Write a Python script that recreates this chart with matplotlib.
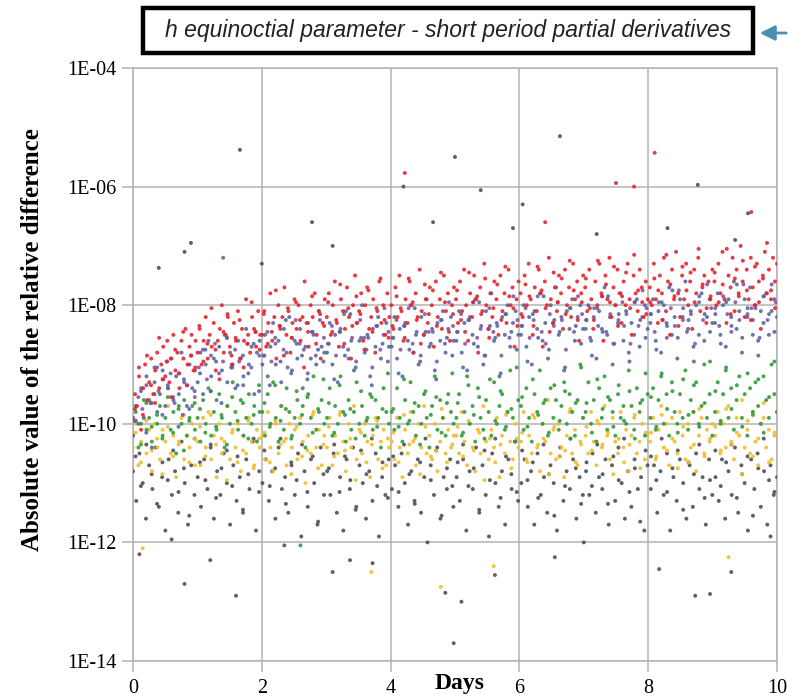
import numpy as np
import matplotlib
matplotlib.use('Agg')
import matplotlib.pyplot as plt
from matplotlib.ticker import FixedLocator, FuncFormatter, NullLocator
from matplotlib.patches import Rectangle, FancyArrowPatch


# log10 of |relative difference|, sampled evenly over the 10 days (two rows per day)
red_vals = [
    -9.9, -9.5, -9.7, -9.2, -10.1, -9.4, -9.0, -9.6, -9.3, -8.9, -9.5, -9.1, -8.8, -9.4, -9.0, -8.7,
    -9.2, -8.6, -9.3, -8.9, -8.5, -9.1, -8.8, -9.4, -8.6, -8.9, -8.4, -9.0, -8.7, -8.5, -9.1, -8.6,
    -8.8, -8.4, -9.0, -8.6, -8.2, -8.9, -8.5, -8.7, -8.3, -9.1, -8.6, -8.4, -8.0, -8.8, -8.5, -8.2,
    -8.7, -9.0, -8.3, -8.6, -8.1, -8.9, -8.4, -8.6, -7.9, -8.5, -8.8, -8.2, -8.4, -8.7, -8.1, -8.5,
    -8.5, -8.1, -8.7, -8.3, -7.8, -8.6, -8.2, -8.9, -8.0, -8.4, -8.2, -7.7, -8.5, -8.1, -8.8, -8.3,
    -7.9, -8.4, -8.0, -8.6, -8.2, -7.6, -8.3, -8.7, -8.0, -8.2, -7.8, -8.5, -8.1, -8.9, -8.3, -7.9,
    -8.2, -7.8, -8.5, -8.0, -7.6, -8.3, -8.7, -7.9, -8.1, -8.4, -7.7, -8.2, -8.9, -8.0, -7.5, -8.3,
    -8.1, -7.8, -8.6, -8.0, -7.7, -8.4, -8.2, -7.9, -8.8, -8.1, -7.6, -8.3, -8.0, -8.5, -7.8, -8.2,
    -8.0, -8.4, -7.7, -8.2, -7.5, -8.1, -8.6, -7.9, -8.3, -7.6, -8.0, -8.8, -7.8, -8.2, -7.4, -8.1,
    -8.5, -7.9, -8.3, -7.7, -8.0, -8.7, -7.6, -8.2, -7.9, -8.4, -7.5, -8.1, -7.8, -8.6, -8.0, -7.7,
    -7.9, -8.3, -7.6, -8.1, -7.4, -8.0, -8.6, -7.8, -8.2, -7.5, -7.9, -8.8, -7.7, -8.1, -7.3, -8.0,
    -8.4, -7.8, -8.2, -7.6, -7.9, -8.5, -7.5, -8.1, -7.8, -8.3, -7.4, -8.0, -7.7, -8.7, -7.9, -7.6,
    -7.8, -8.2, -7.5, -8.0, -7.3, -7.9, -8.5, -7.7, -8.1, -7.4, -7.8, -8.7, -7.6, -8.0, -7.2, -7.9,
    -8.3, -7.7, -8.1, -7.5, -7.8, -8.4, -7.4, -8.0, -7.7, -8.2, -7.3, -7.9, -7.6, -8.6, -7.8, -7.5,
    -7.7, -8.1, -7.4, -7.9, -8.4, -7.6, -8.0, -7.3, -7.8, -8.6, -7.5, -7.9, -7.2, -8.2, -7.7, -8.0,
    -7.4, -7.8, -8.3, -7.6, -8.0, -7.3, -7.9, -8.5, -7.5, -7.8, -8.1, -7.4, -7.7, -8.2, -7.6, -7.9,
    -7.7, -8.0, -7.3, -7.9, -8.3, -7.5, -7.8, -7.2, -8.1, -7.6, -8.5, -7.4, -7.9, -7.1, -7.8, -8.2,
    -7.5, -7.9, -7.3, -8.0, -7.6, -8.4, -7.4, -7.8, -7.2, -8.1, -7.7, -7.5, -8.3, -7.6, -7.9, -7.4,
    -7.6, -8.0, -7.3, -7.8, -7.1, -7.9, -8.3, -7.5, -7.7, -7.2, -8.1, -7.4, -7.8, -7.0, -7.6, -8.2,
    -7.4, -7.9, -7.2, -7.7, -8.0, -7.3, -7.6, -8.4, -7.5, -7.1, -7.8, -7.4, -7.9, -7.2, -7.6, -7.3,
]
# second run of the same quantity, sampled between the first run's epochs
red_vals_b = [
    -9.75, -9.05, -9.85, -8.85, -9.35, -9.65, -8.55, -9.25, -8.95, -9.55, -8.75, -9.15, -8.45, -9.35, -8.85, -9.05,
    -8.35, -8.95, -8.65, -8.05, -8.75, -9.25, -8.45, -8.15, -8.85, -8.55, -8.25, -9.05, -8.65, -7.95, -8.45, -8.75,
    -8.15, -8.65, -8.45, -7.75, -8.35, -8.85, -8.05, -8.55, -7.95, -8.25, -9.05, -8.45, -7.85, -8.65, -8.15, -8.35,
    -7.95, -8.45, -8.25, -7.65, -8.65, -8.05, -8.35, -7.85, -8.15, -8.75, -7.75, -8.45, -8.05, -7.55, -8.25, -8.55,
    -8.35, -7.85, -8.05, -8.55, -7.55, -7.95, -8.25, -8.65, -7.65, -8.15, -7.75, -8.35, -7.45, -7.95, -8.45, -8.15,
    -7.75, -8.25, -8.45, -7.45, -7.95, -7.85, -8.15, -7.55, -8.55, -8.05, -7.65, -8.25, -7.35, -7.85, -8.05, -8.35,
    -8.15, -7.65, -7.85, -8.35, -7.35, -7.75, -8.05, -8.45, -7.45, -7.95, -7.55, -8.15, -7.25, -7.75, -8.25, -7.95,
    -7.55, -8.05, -8.25, -7.25, -7.85, -7.65, -7.95, -7.35, -8.35, -7.85, -7.45, -8.05, -7.15, -7.75, -7.95, -8.15,
    -7.95, -7.55, -7.75, -8.25, -7.15, -7.65, -7.85, -8.35, -7.35, -7.75, -7.45, -7.95, -7.05, -7.65, -8.05, -7.85,
    -7.45, -7.95, -7.65, -7.05, -8.15, -7.55, -7.85, -7.25, -7.75, -8.25, -7.35, -7.95, -7.55, -6.95, -7.75, -8.05,
]

blue_vals = [
    -10.2, -9.7, -10.0, -9.4, -9.9, -9.2, -9.6, -10.4, -9.3, -9.8, -9.5, -9.1, -9.7, -9.4, -8.9, -9.6, -9.2, -9.5, -8.8, -9.3, -9.7, -9.0, -9.4, -9.1,
    -9.3, -8.8, -9.5, -9.0, -8.6, -9.2, -8.9, -9.6, -8.7, -9.1, -8.5, -9.3, -8.8, -9.0, -9.4, -8.6, -8.9, -9.2, -8.4, -9.0, -8.7, -9.5, -8.8, -8.6,
    -9.0, -8.5, -9.2, -8.7, -8.3, -9.0, -8.6, -9.3, -8.4, -8.8, -8.2, -9.1, -8.6, -8.9, -8.4, -9.4, -8.7, -8.3, -8.9, -8.5, -9.0, -8.1, -8.7, -8.8,
    -8.8, -8.3, -9.0, -8.5, -9.3, -8.4, -8.7, -8.1, -8.9, -8.6, -9.1, -8.3, -8.6, -8.0, -8.8, -8.5, -9.2, -8.4, -8.7, -8.2, -8.9, -8.5, -8.3, -8.7,
    -8.7, -8.2, -8.9, -8.4, -9.2, -8.3, -8.6, -8.0, -8.8, -8.5, -9.0, -8.2, -8.5, -7.9, -8.7, -8.4, -9.1, -8.3, -8.6, -8.1, -8.8, -8.4, -8.2, -8.6,
    -8.6, -8.1, -8.8, -8.3, -9.1, -8.2, -8.5, -7.9, -8.7, -8.4, -9.0, -8.1, -8.4, -7.8, -8.6, -8.3, -9.2, -8.2, -8.5, -8.0, -8.7, -8.3, -8.1, -8.5,
    -8.5, -8.0, -8.7, -8.2, -9.0, -8.1, -8.4, -7.8, -8.6, -8.3, -8.9, -8.0, -8.3, -7.7, -8.5, -8.2, -9.1, -8.1, -8.4, -7.9, -8.6, -8.2, -8.0, -8.4,
    -8.4, -8.0, -8.6, -8.2, -8.9, -8.1, -8.4, -7.7, -8.5, -8.2, -9.0, -8.0, -8.3, -7.8, -8.6, -8.1, -8.8, -8.3, -8.5, -7.9, -8.7, -8.2, -8.0, -8.4,
    -8.3, -7.9, -8.6, -8.1, -8.8, -8.0, -8.3, -7.7, -8.5, -8.2, -8.9, -7.9, -8.2, -7.6, -8.4, -8.1, -8.7, -8.0, -8.5, -7.8, -8.6, -8.2, -7.9, -8.3,
    -8.3, -7.8, -8.5, -8.0, -8.7, -7.9, -8.2, -7.6, -8.4, -8.1, -8.8, -7.9, -8.2, -7.7, -8.5, -8.0, -8.6, -8.1, -8.3, -7.8, -8.5, -8.1, -7.9, -8.2,
]
blue_vals_b = [
    -9.95, -9.45, -10.15, -9.65, -9.05, -9.85, -9.35, -9.55, -10.05, -9.25, -9.75, -9.45,
    -9.15, -8.75, -9.45, -8.95, -9.65, -8.55, -9.05, -9.35, -8.85, -9.15, -8.65, -9.45,
    -8.85, -9.35, -8.55, -8.95, -8.25, -9.15, -8.65, -8.85, -9.25, -8.45, -8.75, -8.95,
    -8.65, -9.25, -8.45, -8.85, -8.15, -9.05, -8.55, -8.75, -9.35, -8.35, -8.65, -8.95,
    -8.55, -9.15, -8.35, -8.75, -8.05, -8.95, -8.45, -8.65, -9.25, -8.25, -8.55, -8.85,
    -8.45, -9.05, -8.25, -8.65, -7.95, -8.85, -8.35, -8.55, -9.15, -8.15, -8.45, -8.75,
    -8.35, -8.95, -8.15, -8.55, -7.85, -8.75, -8.25, -8.45, -9.05, -8.05, -8.35, -8.65,
    -8.25, -8.85, -8.05, -8.45, -7.85, -8.65, -8.15, -8.35, -8.95, -7.95, -8.25, -8.55,
    -8.15, -8.75, -7.95, -8.35, -7.75, -8.55, -8.05, -8.25, -8.95, -7.85, -8.15, -8.45,
    -8.15, -8.65, -7.95, -8.35, -7.65, -8.55, -8.05, -8.25, -8.85, -7.85, -8.15, -8.45,
]

violet_vals = [
    -9.95, -9.55, -9.75, -9.35, -9.65, -9.05, -9.45, -9.25, -8.95, -9.15, -9.65, -9.15, -9.85, -9.35, -8.85, -9.55,
    -9.05, -8.75, -9.25, -8.85, -8.65, -9.15, -8.95, -8.55, -9.05, -8.75, -8.95, -9.35, -8.65, -9.05, -8.45, -8.85,
    -8.85, -8.45, -8.95, -8.65, -8.35, -8.75, -9.05, -8.55, -8.25, -8.65, -8.75, -9.15, -8.45, -8.85, -8.25, -8.55,
    -8.65, -8.35, -8.85, -8.45, -8.15, -8.75, -8.55, -8.95, -8.25, -8.55, -8.55, -9.05, -8.35, -8.75, -8.05, -8.45,
    -8.55, -8.25, -8.75, -8.35, -8.05, -8.65, -8.45, -8.85, -8.15, -8.45, -8.45, -8.95, -8.25, -8.65, -7.95, -8.35,
    -8.45, -8.15, -8.65, -8.25, -7.95, -8.55, -8.35, -8.85, -8.05, -8.45, -8.35, -8.85, -8.15, -8.55, -7.85, -8.25,
    -8.35, -8.05, -8.55, -8.25, -7.85, -8.45, -8.65, -8.15, -8.35, -7.95, -8.25, -8.75, -8.05, -8.45, -7.85, -8.15,
    -8.25, -8.55, -8.05, -8.35, -7.85, -8.45, -8.15, -8.65, -8.25, -7.95, -8.15, -8.65, -7.95, -8.35, -7.75, -8.05,
    -8.15, -8.45, -7.95, -8.25, -8.55, -8.05, -8.35, -7.75, -8.25, -8.45, -8.15, -8.65, -7.95, -8.25, -7.65, -8.05,
    -8.05, -8.35, -7.85, -8.15, -8.45, -7.95, -8.25, -7.65, -8.15, -8.05, -8.05, -8.55, -7.85, -8.25, -7.65, -7.95,
]

green_vals = [
    -10.2, -9.8, -10.4, -10.0, -9.6, -10.1, -9.9, -10.3, -9.5, -10.0, -9.7, -10.2, -9.9, -9.4, -10.1, -9.8, -10.5, -9.7, -10.0, -9.6, -10.2, -9.9, -9.7, -10.1,
    -9.9, -10.3, -9.6, -10.0, -9.4, -10.2, -9.8, -10.1, -9.5, -9.9, -10.4, -9.7, -10.0, -9.3, -9.8, -10.1, -9.6, -10.2, -9.9, -9.5, -10.0, -9.7, -10.3, -9.8,
    -9.8, -10.2, -9.5, -10.0, -9.3, -9.9, -10.3, -9.7, -10.1, -9.4, -9.8, -10.2, -9.9, -9.6, -10.0, -9.7, -10.4, -9.5, -9.9, -9.2, -10.1, -9.8, -9.6, -10.0,
    -9.9, -9.4, -10.2, -9.7, -10.0, -9.2, -9.8, -10.3, -9.6, -10.1, -9.8, -9.3, -10.0, -9.7, -10.2, -9.9, -9.5, -10.1, -9.6, -9.9, -10.4, -9.4, -9.8, -10.0,
    -9.8, -10.1, -9.4, -9.9, -10.3, -9.6, -10.0, -9.3, -9.8, -10.2, -9.7, -10.0, -9.5, -9.9, -10.4, -9.7, -9.2, -10.1, -9.6, -9.9, -10.2, -9.5, -9.8, -10.0,
    -9.9, -9.5, -10.2, -9.8, -9.2, -10.0, -9.7, -10.3, -9.4, -9.9, -10.1, -9.6, -9.8, -10.2, -9.3, -10.0, -9.7, -9.5, -10.1, -9.8, -9.1, -9.9, -10.3, -9.6,
    -9.7, -10.1, -9.4, -9.9, -10.3, -9.5, -9.8, -9.1, -10.0, -9.6, -10.2, -9.4, -9.9, -9.6, -10.1, -9.7, -9.3, -10.0, -9.5, -9.8, -10.2, -9.6, -9.0, -9.9,
    -9.8, -9.3, -10.0, -9.6, -10.3, -9.4, -9.9, -9.2, -10.1, -9.6, -9.8, -10.2, -9.5, -9.9, -9.7, -10.0, -9.1, -9.7, -10.1, -9.4, -9.8, -9.6, -10.2, -9.5,
    -9.9, -9.4, -10.1, -9.6, -9.2, -10.0, -9.5, -10.2, -9.3, -9.8, -10.0, -9.5, -9.9, -9.1, -10.1, -9.6, -9.8, -9.3, -10.0, -9.7, -9.0, -9.9, -9.5, -10.2,
    -9.8, -9.3, -10.0, -9.5, -9.1, -9.9, -9.4, -10.1, -9.6, -9.2, -9.9, -9.5, -10.2, -9.4, -9.8, -9.3, -9.7, -10.0, -9.2, -9.6, -9.9, -9.0, -9.5, -9.8,
]
green_vals_b = [
    -9.95, -10.35, -9.65, -10.05, -9.85, -10.25, -9.55, -10.15, -9.75, -10.45, -9.95, -9.65,
    -9.75, -10.15, -9.45, -10.05, -9.85, -10.35, -9.55, -9.95, -9.65, -10.25, -9.85, -9.35,
    -9.65, -10.05, -9.35, -9.95, -9.75, -10.25, -9.45, -9.85, -9.55, -10.15, -9.75, -9.25,
    -9.65, -10.15, -9.35, -9.85, -9.75, -10.25, -9.45, -9.95, -9.55, -10.05, -9.75, -9.15,
    -9.75, -10.05, -9.25, -9.95, -9.65, -10.35, -9.45, -9.85, -9.55, -10.15, -9.65, -9.15,
    -9.65, -10.15, -9.35, -9.85, -9.55, -10.25, -9.25, -9.95, -9.45, -10.05, -9.75, -9.05,
    -9.55, -10.05, -9.25, -9.85, -9.65, -10.15, -9.35, -9.95, -9.45, -10.25, -9.65, -9.05,
    -9.65, -10.15, -9.25, -9.75, -9.55, -10.05, -9.35, -9.95, -9.45, -10.25, -9.65, -9.15,
    -9.55, -10.05, -9.15, -9.75, -9.45, -10.15, -9.25, -9.85, -9.35, -10.05, -9.65, -8.95,
    -9.45, -9.95, -9.05, -9.75, -9.35, -10.05, -9.15, -9.85, -9.25, -10.15, -9.55, -8.95,
]

yellow_vals = [
    -10.4, -10.0, -10.7, -10.3, -9.9, -10.5, -10.1, -10.8, -10.0, -10.4, -10.6, -10.1, -10.3, -9.7, -10.5, -10.2, -10.9, -10.3, -9.9, -10.6, -10.2, -10.4, -10.0, -10.7,
    -10.3, -10.7, -9.9, -10.4, -9.8, -10.6, -10.2, -10.9, -10.0, -10.5, -10.3, -9.7, -10.6, -10.1, -10.4, -10.0, -10.8, -10.2, -10.5, -9.9, -10.3, -10.7, -10.1, -10.4,
    -10.2, -10.6, -9.8, -10.4, -10.8, -10.0, -10.5, -9.7, -10.3, -10.7, -10.0, -10.4, -10.1, -10.6, -9.9, -10.3, -11.0, -10.2, -10.5, -9.8, -10.4, -10.1, -10.7, -10.2,
    -10.4, -9.9, -10.7, -10.2, -10.5, -9.8, -10.3, -10.8, -10.0, -10.4, -9.7, -10.6, -10.1, -10.5, -10.0, -10.3, -10.9, -10.2, -9.9, -10.6, -10.3, -10.1, -10.7, -10.4,
    -10.3, -10.6, -9.9, -10.4, -10.9, -10.1, -10.5, -9.8, -10.3, -10.7, -10.0, -10.4, -9.7, -10.5, -10.2, -10.6, -10.0, -10.8, -10.3, -9.9, -10.5, -10.1, -10.4, -10.2,
    -10.2, -10.5, -9.8, -10.3, -10.7, -10.0, -10.4, -10.8, -10.1, -10.5, -9.7, -10.3, -10.6, -10.1, -10.4, -9.9, -10.9, -10.2, -10.5, -9.8, -10.3, -10.6, -10.0, -10.4,
    -10.3, -9.8, -10.6, -10.2, -10.5, -9.9, -10.4, -10.8, -10.0, -10.3, -9.6, -10.5, -10.1, -10.6, -10.0, -10.4, -10.9, -10.2, -9.8, -10.5, -10.1, -10.7, -10.3, -9.9,
    -10.2, -10.5, -9.8, -10.3, -10.7, -10.0, -10.4, -9.7, -10.2, -10.6, -9.9, -10.3, -10.5, -9.8, -10.4, -10.1, -10.8, -10.2, -9.9, -10.5, -10.3, -10.0, -10.6, -10.2,
    -10.3, -9.9, -10.6, -10.1, -9.7, -10.4, -10.0, -10.7, -9.9, -10.3, -10.5, -9.8, -10.2, -10.6, -10.0, -10.4, -9.8, -10.8, -10.2, -9.9, -10.5, -10.1, -10.3, -10.0,
    -10.2, -9.8, -10.5, -10.0, -10.4, -9.7, -10.3, -10.6, -9.9, -10.2, -9.6, -10.4, -10.1, -10.5, -9.8, -10.3, -10.7, -10.0, -9.9, -10.4, -10.1, -10.6, -10.2, -9.8,
]
yellow_vals_b = [
    -10.15, -10.65, -9.95, -10.45, -10.25, -10.85, -10.05, -10.55, -10.35, -9.85, -10.65, -10.25,
    -10.05, -10.55, -9.85, -10.35, -10.25, -10.95, -10.15, -10.65, -10.45, -9.95, -10.75, -10.25,
    -10.15, -10.65, -9.95, -10.35, -10.25, -10.85, -10.05, -10.55, -10.45, -9.85, -10.75, -10.35,
    -10.05, -10.55, -9.85, -10.45, -10.25, -10.95, -10.15, -10.65, -10.35, -9.95, -10.75, -10.25,
    -10.15, -10.65, -9.85, -10.35, -10.25, -10.85, -10.05, -10.55, -10.45, -9.75, -10.65, -10.35,
    -10.05, -10.55, -9.95, -10.45, -10.15, -10.95, -10.25, -10.65, -10.35, -9.85, -10.75, -10.25,
    -10.15, -10.65, -9.85, -10.35, -10.25, -10.85, -10.05, -10.55, -10.45, -9.75, -10.65, -10.35,
    -10.05, -10.45, -9.95, -10.35, -10.15, -10.85, -10.25, -10.65, -10.35, -9.85, -10.75, -10.15,
    -10.15, -10.55, -9.85, -10.45, -10.25, -10.75, -10.05, -10.65, -10.35, -9.75, -10.55, -10.25,
    -10.05, -10.45, -9.75, -10.35, -10.15, -10.85, -9.95, -10.55, -10.25, -9.65, -10.65, -10.15,
]

gray_vals = [
    -10.8, -11.3, -10.5, -11.0, -11.6, -10.7, -11.1, -10.4, -11.4, -10.9, -11.8, -10.6, -11.2, -10.8, -11.5, -10.3, -11.0, -11.7, -10.7, -11.2,
    -10.9, -11.4, -10.6, -11.1, -10.4, -11.6, -10.8, -11.2, -10.5, -11.0, -11.7, -10.7, -11.3, -10.9, -11.5, -10.6, -11.1, -10.3, -11.8, -10.8,
    -11.0, -10.6, -11.3, -10.8, -11.6, -10.4, -11.1, -10.9, -11.5, -10.7, -11.2, -10.5, -11.9, -10.8, -11.4, -10.6, -11.0, -11.7, -10.4, -11.2,
    -10.8, -11.2, -10.5, -11.5, -10.9, -11.8, -10.6, -11.1, -10.4, -11.4, -10.7, -11.0, -11.6, -10.8, -11.3, -10.5, -11.9, -10.9, -11.2, -10.6,
    -11.1, -10.7, -11.4, -10.5, -11.0, -11.7, -10.8, -11.3, -10.6, -11.5, -10.9, -12.0, -10.7, -11.2, -10.4, -11.6, -10.9, -11.1, -10.6, -11.4,
    -10.9, -11.3, -10.6, -11.8, -10.8, -11.1, -10.4, -11.5, -10.7, -11.2, -11.9, -10.5, -11.0, -11.4, -10.8, -11.7, -10.6, -11.1, -10.3, -11.3,
    -11.0, -10.6, -11.4, -10.8, -11.7, -10.5, -11.2, -10.9, -11.5, -10.7, -11.0, -11.8, -10.4, -11.3, -10.8, -11.1, -10.6, -11.6, -10.9, -11.2,
    -10.8, -11.2, -10.5, -11.5, -10.9, -11.1, -10.6, -11.7, -10.7, -11.3, -10.4, -11.0, -11.6, -10.8, -11.4, -10.6, -11.1, -10.9, -11.8, -10.7,
    -11.1, -10.7, -11.5, -10.8, -11.2, -10.5, -11.8, -10.9, -11.3, -10.6, -11.0, -11.6, -10.7, -11.4, -10.5, -11.1, -10.9, -11.7, -10.6, -11.2,
    -10.9, -11.3, -10.6, -11.6, -10.8, -11.2, -10.4, -11.5, -10.7, -11.0, -11.8, -10.6, -11.1, -10.5, -11.4, -10.8, -11.7, -10.7, -11.2, -10.9,
]
gray_vals_b = [
    -10.55, -11.05, -10.35, -10.85, -11.35, -10.65, -10.95, -10.45, -11.15, -10.75, -11.55, -10.25,
    -10.65, -10.95, -10.35, -11.25, -10.75, -10.45, -11.05, -10.55, -11.45, -10.85, -10.25, -11.15,
    -10.45, -11.05, -10.75, -10.25, -11.35, -10.65, -10.95, -10.35, -11.15, -10.55, -11.65, -10.85,
    -10.75, -10.35, -11.15, -10.55, -10.95, -11.45, -10.45, -10.85, -10.25, -11.05, -10.65, -11.25,
    -10.55, -11.15, -10.35, -10.85, -11.35, -10.65, -10.25, -10.95, -10.45, -11.55, -10.75, -11.05,
    -10.65, -10.35, -11.05, -10.75, -11.45, -10.45, -10.95, -10.25, -11.25, -10.55, -10.85, -11.15,
    -10.45, -10.95, -10.65, -11.25, -10.35, -10.85, -11.55, -10.55, -11.05, -10.25, -10.75, -11.35,
    -10.65, -11.05, -10.35, -10.85, -11.35, -10.55, -10.95, -10.25, -11.15, -10.75, -11.65, -10.45,
    -10.55, -10.95, -10.25, -11.15, -10.75, -10.45, -11.45, -10.65, -10.85, -10.35, -11.25, -10.95,
    -10.45, -11.05, -10.65, -10.35, -11.25, -10.85, -10.55, -11.55, -10.75, -10.25, -10.95, -11.15,
]

# isolated points far from the main bands: day, log10 value, series
spike_days = [1.66, 4.22, 4.20, 5.00, 5.40, 6.63, 7.50, 7.78, 8.10, 8.77, 9.60, 9.55,
              2.78, 4.66, 0.40, 0.80, 0.90, 6.05, 6.40, 3.10, 5.90, 7.20, 9.35, 2.00,
              1.40, 8.30,
              0.10, 0.15, 0.80, 1.60, 1.20, 3.10, 3.37, 3.70, 3.72, 4.78, 4.85, 4.98,
              5.10, 5.60, 5.62, 6.55, 8.17, 8.73, 8.96, 9.29, 9.25, 2.35, 2.60, 0.60,
              7.00, 9.90]
spike_vals = [-5.38, -5.77, -6.00, -5.50, -6.06, -5.15, -5.94, -6.00, -5.43, -5.97, -6.43, -6.45,
              -6.60, -6.60, -7.37, -7.10, -6.95, -6.30, -6.60, -7.00, -6.70, -6.80, -6.90, -7.30,
              -7.20, -6.70,
              -12.20, -12.10, -12.70, -12.90, -12.30, -12.50, -12.30, -12.50, -12.35, -12.75, -12.85, -13.70,
              -13.00, -12.40, -12.55, -12.25, -12.45, -12.90, -12.87, -12.50, -12.25, -12.05, -12.05, -11.95,
              -12.00, -11.90]
spike_series = ['gray', 'red', 'gray', 'gray', 'gray', 'gray', 'red', 'red', 'red', 'gray', 'red', 'gray',
                'gray', 'gray', 'gray', 'gray', 'gray', 'gray', 'red', 'gray', 'gray', 'gray', 'gray', 'gray',
                'blue', 'gray',
                'gray', 'yellow', 'gray', 'gray', 'gray', 'gray', 'gray', 'yellow', 'gray', 'yellow', 'gray', 'gray',
                'gray', 'yellow', 'gray', 'gray', 'gray', 'gray', 'gray', 'gray', 'yellow', 'gray', 'green', 'gray',
                'gray', 'gray']

colors = {
    'red': '#e5242d',
    'blue': '#55699e',
    'violet': '#8557a6',
    'green': '#34993a',
    'yellow': '#f0bd2a',
    'gray': '#4d5058',
}

ytick_exp = [-14, -12, -10, -8, -6, -4]
xticks = [0, 2, 4, 6, 8, 10]

fig = plt.figure(figsize=(7.89, 6.98), dpi=100)
ax = fig.add_axes([133/789, 1 - 661/698, 644/789, 593/698])

# (series, values, first epoch, last epoch)
runs = [('gray', gray_vals, 0.0, 10.0), ('gray', gray_vals_b, 0.04, 9.96),
        ('yellow', yellow_vals, 0.0, 10.0), ('yellow', yellow_vals_b, 0.04, 9.96),
        ('green', green_vals, 0.0, 10.0), ('green', green_vals_b, 0.04, 9.96),
        ('violet', violet_vals, 0.02, 9.98),
        ('blue', blue_vals, 0.0, 10.0), ('blue', blue_vals_b, 0.04, 9.96),
        ('red', red_vals, 0.0, 10.0), ('red', red_vals_b, 0.03, 9.97)]
for name, vals, t0, t1 in runs:
    days = np.linspace(t0, t1, len(vals))
    ax.scatter(days, 10.0 ** np.array(vals), s=8, color=colors[name],
               edgecolors='none', alpha=0.9, zorder=3)

ax.scatter(spike_days, 10.0 ** np.array(spike_vals), s=8,
           color=[colors[c] for c in spike_series], edgecolors='none', alpha=0.9, zorder=3)

ax.set_yscale('log')
ax.set_ylim(1e-14, 1e-4)
ax.set_xlim(0, 10)

ax.yaxis.set_major_locator(FixedLocator([10.0 ** e for e in ytick_exp]))
ax.yaxis.set_minor_locator(NullLocator())
ax.yaxis.set_major_formatter(FuncFormatter(lambda v, p: '1E-%02d' % round(-np.log10(v))))
ax.set_xticks(xticks)

ax.grid(True, color='#b3b3b3', linewidth=1.1, zorder=0)
for sp in ax.spines.values():
    sp.set_color('#b3b3b3')
    sp.set_linewidth(1.1)
ax.tick_params(axis='both', color='#b3b3b3', width=1.1, length=8, labelsize=14.5,
               labelcolor='black')
ax.tick_params(axis='y', pad=4)
ax.tick_params(axis='x', pad=5)
for lab in ax.get_xticklabels() + ax.get_yticklabels():
    lab.set_family('Liberation Serif')

fig.text(33/789, 1 - 340/698, 'Absolute value of the relative difference', rotation=90,
         ha='center', va='center', family='Liberation Serif', weight='bold', fontsize=18)
fig.text(460/789, 1 - 683/698, 'Days', ha='center', va='center',
         family='Liberation Serif', weight='bold', fontsize=17)

# boxed title with a pointer arrow on its right
fig.patches.append(Rectangle((143/789, 1 - 53/698), 610/789, 45/698, transform=fig.transFigure,
                             fill=False, edgecolor='black', linewidth=3.2))
fig.text(448/789, 1 - 31/698, 'h equinoctial parameter - short period partial derivatives',
         ha='center', va='center', style='italic', fontsize=16.5,
         family=['Liberation Sans', 'DejaVu Sans'], color='#222222')
fig.patches.append(FancyArrowPatch(
    (789/789, 1 - 33/698), (757/789, 1 - 33/698), transform=fig.transFigure,
    arrowstyle='-|>,head_length=9,head_width=4.5', color='#4a8db5', linewidth=2.0))

fig.savefig('out.png', dpi=100)
